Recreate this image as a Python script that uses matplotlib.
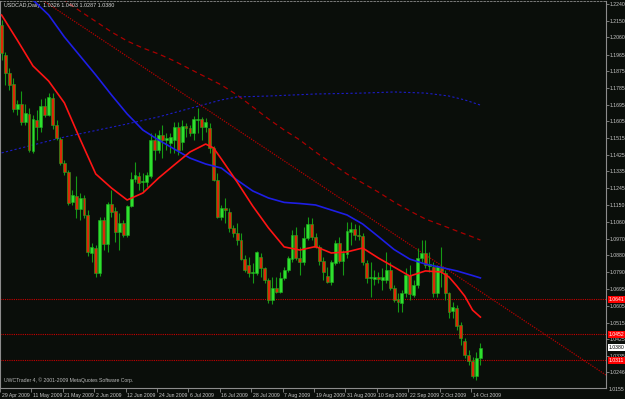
import matplotlib
matplotlib.use("Agg")
import matplotlib.pyplot as plt
import matplotlib.transforms as mtransforms
import numpy as np
import pandas as pd

# USDCAD daily bars, 29 Apr 2009 .. 16 Oct 2009
dates = pd.bdate_range("2009-04-29", "2009-10-16")

opens = [1.2127, 1.1964, 1.1867, 1.1807, 1.1672, 1.1699, 1.1601, 1.1645, 1.1444, 1.1612,
         1.1574, 1.1688, 1.1639, 1.1731, 1.1585, 1.1510, 1.1379, 1.1331, 1.1168, 1.1201,
         1.1130, 1.1190, 1.1098, 1.0892, 1.0919, 1.0784, 1.1071, 1.0941, 1.1157, 1.1120,
         1.1006, 1.1055, 1.0990, 1.1146, 1.1293, 1.1309, 1.1277, 1.1277, 1.1309, 1.1504,
         1.1450, 1.1531, 1.1504, 1.1488, 1.1504, 1.1574, 1.1493, 1.1580, 1.1569, 1.1542,
         1.1612, 1.1618, 1.1574, 1.1569, 1.1461, 1.1287, 1.1087, 1.1136, 1.1114, 1.1028,
         1.1000, 1.0962, 1.0859, 1.0827, 1.0784, 1.0784, 1.0870, 1.0811, 1.0746, 1.0638,
         1.0703, 1.0681, 1.0757, 1.0800, 1.0859, 1.0990, 1.0865, 1.0843, 1.0973, 1.1049,
         1.0979, 1.0925, 1.0849, 1.0767, 1.0735, 1.0838, 1.0946, 1.0849, 1.0887, 1.1006,
         1.1022, 1.0990, 1.0984, 1.0838, 1.0757, 1.0751, 1.0762, 1.0746, 1.0746, 1.0800,
         1.0703, 1.0643, 1.0621, 1.0675, 1.0773, 1.0665, 1.0719, 1.0865, 1.0892, 1.0822,
         1.0816, 1.0675, 1.0811, 1.0784, 1.0675, 1.0578, 1.0594, 1.0502, 1.0416, 1.0340,
         1.0307, 1.0226, 1.0326]
highs = [1.2154, 1.1980, 1.1894, 1.1840, 1.1721, 1.1769, 1.1699, 1.1677, 1.1639, 1.1666,
         1.1726, 1.1731, 1.1759, 1.1759, 1.1612, 1.1520, 1.1396, 1.1342, 1.1233, 1.1309,
         1.1217, 1.1206, 1.1125, 1.0946, 1.0935, 1.1087, 1.1087, 1.1168, 1.1233, 1.1141,
         1.1109, 1.1071, 1.1152, 1.1331, 1.1385, 1.1331, 1.1325, 1.1331, 1.1542, 1.1542,
         1.1558, 1.1585, 1.1542, 1.1542, 1.1601, 1.1601, 1.1612, 1.1596, 1.1585, 1.1634,
         1.1677, 1.1629, 1.1623, 1.1596, 1.1472, 1.1325, 1.1152, 1.1190, 1.1136, 1.1044,
         1.1055, 1.1000, 1.0881, 1.0870, 1.0838, 1.0903, 1.0892, 1.0816, 1.0757, 1.0762,
         1.0762, 1.0789, 1.0816, 1.0876, 1.1017, 1.1033, 1.0925, 1.1033, 1.1087, 1.1082,
         1.1000, 1.0935, 1.0870, 1.0816, 1.0854, 1.0962, 1.0979, 1.0908, 1.1060, 1.1060,
         1.1049, 1.1044, 1.1000, 1.0854, 1.0843, 1.0800, 1.0789, 1.0811, 1.0898, 1.0843,
         1.0719, 1.0675, 1.0692, 1.0811, 1.0827, 1.0746, 1.0919, 1.0962, 1.0962, 1.0898,
         1.0843, 1.0827, 1.0925, 1.0800, 1.0681, 1.0627, 1.0610, 1.0518, 1.0432, 1.0367,
         1.0329, 1.0356, 1.0403]
lows = [1.1937, 1.1802, 1.1775, 1.1656, 1.1639, 1.1585, 1.1585, 1.1439, 1.1434, 1.1504,
        1.1547, 1.1629, 1.1634, 1.1564, 1.1504, 1.1369, 1.1314, 1.1152, 1.1152, 1.1082,
        1.1071, 1.1082, 1.0876, 1.0843, 1.0762, 1.0767, 1.0908, 1.0898, 1.1087, 1.0952,
        1.0908, 1.0979, 1.0979, 1.1141, 1.1277, 1.1233, 1.1222, 1.1250, 1.1298, 1.1396,
        1.1434, 1.1407, 1.1450, 1.1434, 1.1434, 1.1423, 1.1450, 1.1520, 1.1526, 1.1504,
        1.1542, 1.1504, 1.1547, 1.1434, 1.1282, 1.1082, 1.1071, 1.1055, 1.1006, 1.0979,
        1.0935, 1.0854, 1.0789, 1.0762, 1.0730, 1.0773, 1.0762, 1.0730, 1.0621, 1.0616,
        1.0676, 1.0676, 1.0746, 1.0789, 1.0843, 1.0854, 1.0773, 1.0827, 1.0962, 1.0962,
        1.0919, 1.0827, 1.0746, 1.0730, 1.0719, 1.0827, 1.0838, 1.0773, 1.0865, 1.0935,
        1.0962, 1.0962, 1.0827, 1.0730, 1.0654, 1.0719, 1.0730, 1.0692, 1.0730, 1.0692,
        1.0627, 1.0573, 1.0573, 1.0654, 1.0638, 1.0654, 1.0703, 1.0843, 1.0811, 1.0789,
        1.0654, 1.0654, 1.0708, 1.0638, 1.0540, 1.0540, 1.0475, 1.0394, 1.0323, 1.0286,
        1.0215, 1.0207, 1.0287]
closes = [1.1975, 1.1867, 1.1802, 1.1672, 1.1699, 1.1601, 1.1650, 1.1450, 1.1618, 1.1574,
          1.1688, 1.1639, 1.1737, 1.1585, 1.1515, 1.1379, 1.1331, 1.1163, 1.1206, 1.1130,
          1.1190, 1.1098, 1.0898, 1.0925, 1.0784, 1.1071, 1.0941, 1.1157, 1.1114, 1.1006,
          1.1055, 1.0990, 1.1146, 1.1293, 1.1314, 1.1271, 1.1282, 1.1314, 1.1504, 1.1450,
          1.1531, 1.1504, 1.1515, 1.1520, 1.1574, 1.1450, 1.1580, 1.1569, 1.1542, 1.1618,
          1.1618, 1.1574, 1.1601, 1.1461, 1.1287, 1.1087, 1.1136, 1.1125, 1.1028, 1.1000,
          1.0962, 1.0859, 1.0800, 1.0784, 1.0789, 1.0898, 1.0811, 1.0746, 1.0638, 1.0703,
          1.0681, 1.0757, 1.0800, 1.0865, 1.0990, 1.0865, 1.0843, 1.0973, 1.1049, 1.0979,
          1.0925, 1.0849, 1.0789, 1.0735, 1.0843, 1.0946, 1.0849, 1.0892, 1.1011, 1.1022,
          1.0990, 1.0984, 1.0843, 1.0757, 1.0762, 1.0762, 1.0751, 1.0762, 1.0800, 1.0703,
          1.0638, 1.0627, 1.0675, 1.0773, 1.0670, 1.0719, 1.0865, 1.0892, 1.0827, 1.0832,
          1.0675, 1.0816, 1.0795, 1.0675, 1.0573, 1.0600, 1.0497, 1.0432, 1.0340, 1.0307,
          1.0226, 1.0326, 1.0380]

# indicator lines (sampled at bar indices)
red_ma_idx = [0, 4, 8, 12, 16, 20, 24, 28, 32, 36, 40, 44, 48, 52, 54, 56, 60, 64, 68, 72,
              76, 80, 84, 88, 92, 96, 100, 104, 108, 112, 114, 116, 118, 120, 122]
red_ma_val = [1.2181, 1.2045, 1.1905, 1.1823, 1.1705, 1.1509, 1.1320, 1.1244, 1.1179, 1.1217,
              1.1298, 1.1369, 1.1439, 1.1482, 1.1461, 1.1401, 1.1277, 1.1146, 1.1028, 1.0925,
              1.0908, 1.0927, 1.0892, 1.0898, 1.0919, 1.0865, 1.0816, 1.0767, 1.0795, 1.0789,
              1.0762, 1.0713, 1.0659, 1.0583, 1.0545]
blue_ma_idx = [6, 8, 12, 16, 20, 24, 28, 32, 36, 40, 44, 48, 52, 56, 60, 64, 68, 72, 76, 80,
               84, 88, 92, 96, 100, 104, 108, 112, 116, 120, 122]
blue_ma_val = [1.2305, 1.2262, 1.2181, 1.2062, 1.1959, 1.1856, 1.1748, 1.1645, 1.1558, 1.1504,
               1.1455, 1.1406, 1.1374, 1.1352, 1.1287, 1.1228, 1.1190, 1.1166, 1.1160, 1.1152,
               1.1125, 1.1098, 1.1049, 1.0981, 1.0911, 1.0859, 1.0832, 1.0814, 1.0795, 1.0770,
               1.0757]
blue_slow_idx = [0, 16, 32, 40, 48, 56, 60, 68, 80, 92, 100, 108, 114, 118, 122]
blue_slow_val = [1.1434, 1.1520, 1.1591, 1.1629, 1.1675, 1.1721, 1.1737, 1.1742, 1.1753, 1.1758,
                 1.1764, 1.1758, 1.1742, 1.1721, 1.1693]
red_slow_idx = [14, 20, 24, 28, 32, 36, 40, 44, 48, 52, 56, 60, 64, 68, 72, 76, 80, 84, 88, 92,
                96, 100, 104, 108, 112, 116, 120, 122]
red_slow_val = [1.2289, 1.2202, 1.2146, 1.2089, 1.2040, 1.2002, 1.1970, 1.1932, 1.1888, 1.1845,
                1.1802, 1.1748, 1.1683, 1.1618, 1.1558, 1.1504, 1.1439, 1.1379, 1.1320, 1.1271,
                1.1222, 1.1168, 1.1120, 1.1076, 1.1044, 1.1011, 1.0979, 1.0962]

# trend line anchors (bar index, price) and horizontal levels
trend_idx = [0, 154]
trend_val = [1.2409, 1.0231]
levels = [1.0641, 1.0452, 1.0311]
level_labels = ["1.0641", "1.0452", "1.0311"]
last_price = 1.0380

ytick_vals = [1.2240, 1.2150, 1.2060, 1.1965, 1.1875, 1.1785, 1.1695, 1.1605, 1.1515, 1.1425,
              1.1335, 1.1245, 1.1150, 1.1060, 1.0970, 1.0880, 1.0790, 1.0695, 1.0605, 1.0515,
              1.0425, 1.0335, 1.0246]
bottom_label = 1.0155

xtick_idx = [0, 8, 16, 24, 32, 40, 48, 56, 64, 72, 80, 88, 96, 104, 112, 120]
xtick_labels = ["29 Apr 2009", "11 May 2009", "21 May 2009", "2 Jun 2009", "12 Jun 2009",
                "24 Jun 2009", "6 Jul 2009", "16 Jul 2009", "28 Jul 2009", "7 Aug 2009",
                "19 Aug 2009", "31 Aug 2009", "10 Sep 2009", "22 Sep 2009", "2 Oct 2009",
                "14 Oct 2009"]

BG = "#0a0e0a"
AXC = "#8c8c8c"
TXT = "#c8c8c8"
FS = 3.7
plt.rcParams["font.family"] = ["Liberation Sans", "DejaVu Sans"]

fig = plt.figure(figsize=(6.25, 3.99), dpi=100, facecolor=BG)
ax = fig.add_axes([0.0, 11 / 399, 606 / 625, 387 / 399])
ax.set_facecolor(BG)

o = np.array(opens)
h = np.array(highs)
l = np.array(lows)
c = np.array(closes)
x = np.arange(len(dates))
up = c >= o

# candles
ax.vlines(x, l, h, color="#159a15", linewidth=0.8, zorder=3)
ax.bar(x[up], (c - o)[up], bottom=o[up], width=0.74, color="#2ee02e",
       edgecolor="#1fb01f", linewidth=0.4, zorder=4)
ax.bar(x[~up], (o - c)[~up], bottom=c[~up], width=0.74, color="#dc2a08",
       edgecolor="#1fb01f", linewidth=0.4, zorder=4)

# indicators
ax.plot(red_slow_idx, red_slow_val, color="#a80000", linewidth=0.9,
        dashes=(4, 3), zorder=2)
ax.plot(blue_slow_idx, blue_slow_val, color="#1c1cc8", linewidth=0.8,
        dashes=(2, 2), zorder=2)
ax.plot(blue_ma_idx, blue_ma_val, color="#1e1ee6", linewidth=1.2, zorder=5)
ax.plot(red_ma_idx, red_ma_val, color="#ff1414", linewidth=1.2, zorder=5)
ax.plot(trend_idx, trend_val, color="#b40000", linewidth=0.9, linestyle=(0, (1, 1)), zorder=2)
for lv in levels:
    ax.axhline(lv, color="#c80000", linewidth=0.8, linestyle=(0, (1, 1)), zorder=2)

ax.set_xlim(-0.27, 154.0)
ax.set_ylim(1.0161, 1.22566)

# frame
for side in ["left", "right", "bottom"]:
    ax.spines[side].set_color(AXC)
    ax.spines[side].set_linewidth(0.8)
ax.spines["top"].set_color(AXC)
ax.spines["top"].set_linewidth(0.6)
ax.spines["top"].set_linestyle((0, (2, 2)))

# price scale on the right
ax.yaxis.tick_right()
ax.set_yticks(ytick_vals)
ax.set_yticklabels([f"{v:.4f}" for v in ytick_vals])
ax.tick_params(axis="y", colors=AXC, labelcolor=TXT, labelsize=FS, length=2, pad=0.8, width=0.6)
ytr = ax.get_yaxis_transform()
ax.text(1.005, bottom_label, f"{bottom_label:.4f}", transform=ytr, fontsize=FS,
        color=TXT, va="center", ha="left", clip_on=False)

for lv, lab in zip(levels, level_labels):
    ax.text(1.004, lv, lab, transform=ytr, fontsize=FS, color="white", va="center", ha="left",
            bbox=dict(boxstyle="square,pad=0.15", fc="#ff0000", ec="none"), clip_on=False, zorder=6)
ax.text(1.004, last_price, f"{last_price:.4f}", transform=ytr, fontsize=FS, color="black",
        va="center", ha="left", bbox=dict(boxstyle="square,pad=0.15", fc="white", ec="none"),
        clip_on=False, zorder=6)

# date scale
ax.set_xticks(np.array(xtick_idx) - 0.4)
ax.set_xticklabels(xtick_labels)
ax.tick_params(axis="x", colors=AXC, labelcolor=TXT, labelsize=FS, length=3, pad=0.8, width=0.6)
shift = mtransforms.ScaledTranslation(1.2 / 72, 0, fig.dpi_scale_trans)
for lab in ax.get_xticklabels():
    lab.set_horizontalalignment("left")
    lab.set_transform(lab.get_transform() + shift)

# captions
ax.text(0.006, 0.994, "USDCAD,Daily  1.0326 1.0403 1.0287 1.0380", transform=ax.transAxes,
        fontsize=FS + 0.2, color="#d8d8d8", va="top", ha="left")
ax.text(0.006, 0.012, "UWCTrader 4, \u00a9 2001-2009 MetaQuotes Software Corp.",
        transform=ax.transAxes, fontsize=FS, color="#b8b8b8", va="bottom", ha="left")

fig.savefig("out.png", dpi=100, facecolor=BG)
